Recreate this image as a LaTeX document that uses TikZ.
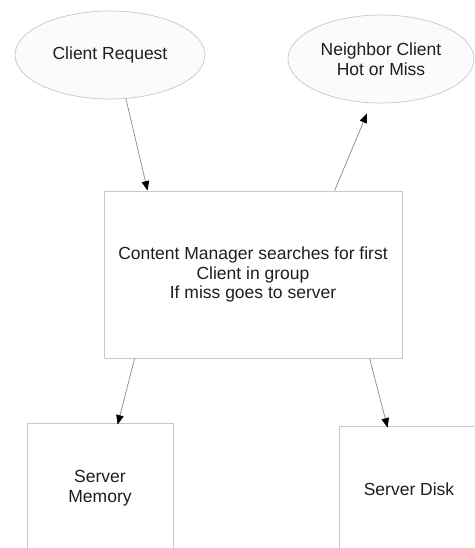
\documentclass[tikz,border=0pt]{standalone}
\usepackage{fontspec}
\setmainfont{Liberation Sans}
\usetikzlibrary{shapes.geometric,arrows.meta}
\definecolor{edgegray}{HTML}{C8C8C8}
\definecolor{linkgray}{HTML}{8A8A8A}
\definecolor{bubble}{HTML}{FBFBFB}
\definecolor{inkgray}{HTML}{1E1E1E}
\tikzset{
  bubblenode/.style={ellipse, draw=edgegray, fill=bubble, line width=0.7pt,
    inner sep=0pt, align=center, text=inkgray, font=\fontsize{17.5}{19.5}\selectfont},
  boxnode/.style={rectangle, draw=edgegray, fill=white, line width=0.8pt,
    inner sep=0pt, align=center, text=inkgray, font=\fontsize{17.5}{19.5}\selectfont},
  link/.style={draw=linkgray, line width=0.7pt,
    -{Triangle[length=9.5pt,width=7.5pt,color=black]}}
}
\begin{document}
\begin{tikzpicture}[x=1pt,y=-1pt]
  \clip (0,0) rectangle (474,548);
  \fill[white] (0,0) rectangle (474,548);

  % request and neighbour bubbles
  \node[bubblenode, minimum width=190, minimum height=88] (cr) at (110,55) {Client Request};
  \node[bubblenode, minimum width=186, minimum height=88] (nb) at (381,59) {Neighbor Client\\Hot or Miss};

  % content manager
  \node[boxnode, minimum width=298, minimum height=167] (cm) at (253,274.5)
    {Content Manager searches for first\\Client in group\\If miss goes to server};

  % server side stores
  \node[boxnode, minimum width=146, minimum height=130] (sm) at (100,488) {Server\\Memory};
  \node[boxnode, minimum width=140, minimum height=126] (sd) at (409,489) {Server Disk};

  % free end of the arrow toward the neighbour
  \coordinate (nbtip) at ([shift={(-14,10)}]nb.south);

  % connectors
  \draw[link] (cr.-70) -- ([xshift=44]cm.north west);
  \draw[link] ([xshift=231]cm.north west) -- (nbtip);
  \draw[link] ([xshift=31]cm.south west) -- ([xshift=91,yshift=-2]sm.north west);
  \draw[link] ([xshift=266]cm.south west) -- ([xshift=49,yshift=-2]sd.north west);
\end{tikzpicture}
\end{document}
